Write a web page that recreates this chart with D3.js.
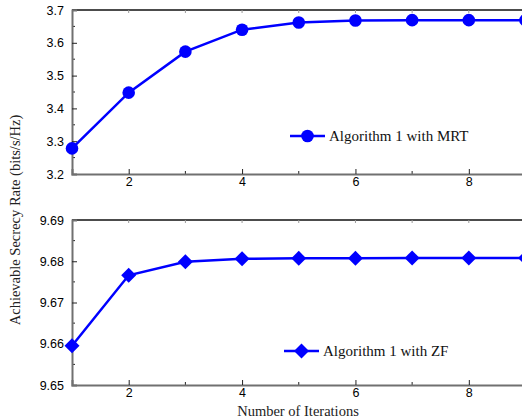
<!DOCTYPE html>
<meta charset="utf-8">
<style>
body { margin: 0; background: #fff; }
.tick text { font-family: 'Liberation Sans', Arial, sans-serif; font-size: 12.5px; fill: #000; }
.title { font-family: 'Liberation Serif', 'Times New Roman', serif; font-size: 14.5px; fill: #222; }
.legend { font-family: 'Liberation Serif', 'Times New Roman', serif; font-size: 15px; fill: #111; }
</style>
<svg width="522" height="418"></svg>
<script src="https://d3js.org/d3.v7.min.js"></script>
<script>

var iterations = [1, 2, 3, 4, 5, 6, 7, 8, 9];
var mrtRate = [3.278, 3.448, 3.573, 3.640, 3.662, 3.668, 3.669, 3.669, 3.669];
var zfRate = [9.6595, 9.6766, 9.6799, 9.6806, 9.6807, 9.6807, 9.6808, 9.6808, 9.6808];
var xTicks = [2, 4, 6, 8];
var mrtTicks = [3.2, 3.3, 3.4, 3.5, 3.6, 3.7];
var zfTicks = [9.65, 9.66, 9.67, 9.68, 9.69];

var svg = d3.select("svg"),
    left = 72, right = 525.5,
    blue = "#0000ff", axisGray = "#707070";

var x = d3.scaleLinear().domain([1, 9]).range([left, right]);

var panels = [
  { top: 10, bottom: 174, domain: [3.2, 3.7], ticks: mrtTicks, minor: 0.05, fmt: ".1f",
    values: mrtRate, marker: "circle", name: "Algorithm 1 with MRT", lx: 290, ly: 136 },
  { top: 220, bottom: 385, domain: [9.65, 9.69], ticks: zfTicks, minor: 0.005, fmt: ".2f",
    values: zfRate, marker: "diamond", name: "Algorithm 1 with ZF", lx: 284, ly: 351 }
];

panels.forEach(function(p) {
  var y = d3.scaleLinear().domain(p.domain).range([p.bottom, p.top]);
  var g = svg.append("g");

  // top frame with small inward ticks
  g.append("line").attr("x1", left).attr("x2", right).attr("y1", p.top).attr("y2", p.top)
    .attr("stroke", "#111").attr("stroke-width", 1.5);
  g.selectAll(".ttick").data(d3.range(2, 9)).enter().append("line")
    .attr("x1", x).attr("x2", x).attr("y1", p.top).attr("y2", p.top + 3)
    .attr("stroke", "#999").attr("stroke-width", 1);

  // minor y ticks
  var minors = d3.range(p.domain[0] + p.minor, p.domain[1], p.minor * 2);
  g.selectAll(".ymin").data(minors).enter().append("line")
    .attr("x1", left).attr("x2", left + 3).attr("y1", y).attr("y2", y)
    .attr("stroke", "#222").attr("stroke-width", 1);
  // minor x ticks
  g.selectAll(".xmin").data([3, 5, 7]).enter().append("line")
    .attr("x1", x).attr("x2", x).attr("y1", p.bottom).attr("y2", p.bottom - 3)
    .attr("stroke", "#222").attr("stroke-width", 1);

  var yAxis = g.append("g").attr("transform", "translate(" + left + ",0)")
    .call(d3.axisLeft(y).tickValues(p.ticks).tickFormat(d3.format(p.fmt)).tickSize(-5).tickPadding(8));
  var xAxis = g.append("g").attr("transform", "translate(0," + p.bottom + ")")
    .call(d3.axisBottom(x).tickValues(xTicks).tickSize(-5).tickPadding(3));
  [yAxis, xAxis].forEach(function(a) {
    a.select(".domain").attr("stroke", axisGray).attr("stroke-width", 2);
    a.selectAll(".tick line").attr("stroke", "#222");
  });
  yAxis.selectAll(".tick").filter(function(d) { return d === p.domain[0] || d === p.domain[1]; })
    .select("line").remove();

  var line = d3.line().x(function(d, i) { return x(iterations[i]); }).y(function(d) { return y(d); });
  g.append("path").datum(p.values).attr("d", line)
    .attr("fill", "none").attr("stroke", blue).attr("stroke-width", 2.5);

  function drawMarker(sel, cx, cy) {
    if (p.marker === "circle") {
      sel.append("circle").attr("cx", cx).attr("cy", cy).attr("r", 6.3).attr("fill", blue);
    } else {
      var s = 7.5;
      sel.append("path").attr("d", "M" + cx + "," + (cy - s) + "L" + (cx + s) + "," + cy +
        "L" + cx + "," + (cy + s) + "L" + (cx - s) + "," + cy + "Z").attr("fill", blue);
    }
  }
  p.values.forEach(function(v, i) { drawMarker(g, x(iterations[i]), y(v)); });

  // legend
  var lg = svg.append("g");
  lg.append("line").attr("x1", p.lx).attr("x2", p.lx + 35).attr("y1", p.ly).attr("y2", p.ly)
    .attr("stroke", blue).attr("stroke-width", 2.5);
  drawMarker(lg, p.lx + 17.5, p.ly);
  lg.append("text").attr("class", "legend").attr("x", p.lx + 39).attr("y", p.ly + 5).text(p.name);
});

svg.append("text").attr("class", "title").attr("text-anchor", "middle")
  .attr("transform", "translate(20,220) rotate(-90)").text("Achievable Secrecy Rate (bits/s/Hz)");
svg.append("text").attr("class", "title").attr("text-anchor", "middle")
  .attr("x", 298).attr("y", 416).text("Number of Iterations");
</script>
